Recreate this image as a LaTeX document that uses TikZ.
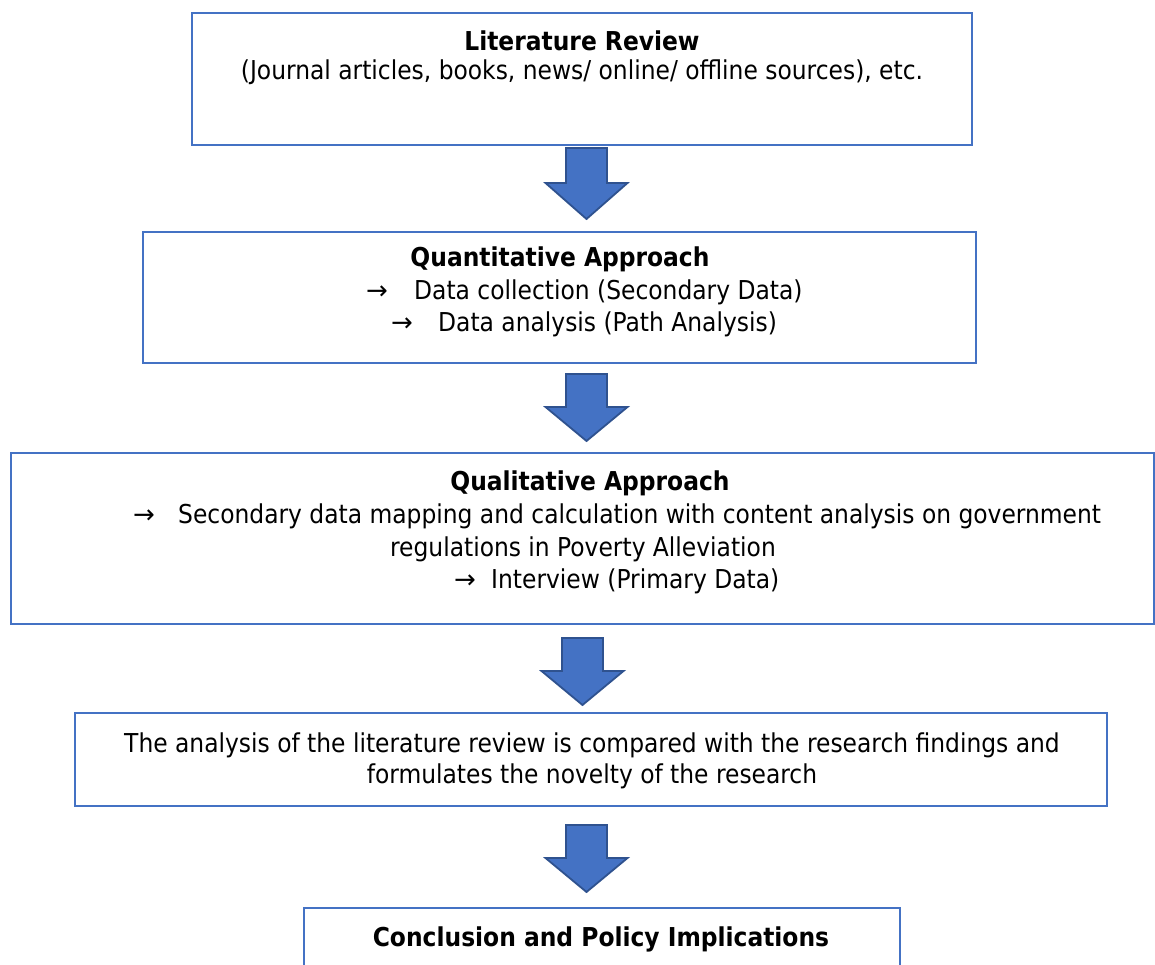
\documentclass[tikz,border=0pt]{standalone}
\usepackage{fontspec}
\setmainfont{DejaVu Sans Condensed}
\newfontfamily\arrowfont{DejaVu Sans}
\definecolor{boxblue}{HTML}{4472C4}
\definecolor{arrowedge}{HTML}{2F528F}
\tikzset{
  stagebox/.style={draw=boxblue, line width=1.5pt, rectangle, inner sep=0pt},
  flowarrow/.style={draw=arrowedge, fill=boxblue, line width=1.8pt, line join=miter},
  txt/.style={inner sep=0pt, anchor=base, font=\fontsize{26}{31}\selectfont},
  btxt/.style={txt, font=\fontsize{26}{31}\selectfont\bfseries},
}
\newcommand{\blockarr}[5]{% name, cx, ytop, ybase, ytip
  \coordinate (#1) at (#2,#3);
  \draw[flowarrow] (#2-20.5,#3) -- (#2+20.5,#3) -- (#2+20.5,#4) -- (#2+41,#4) -- (#2,#5) -- (#2-41,#4) -- (#2-20.5,#4) -- cycle;}
\newcommand{\rarr}{{\arrowfont →}}
\begin{document}
\begin{tikzpicture}[x=1pt,y=-1pt]
\useasboundingbox (0,0) rectangle (1155,965);
\clip (0,0) rectangle (1155,965);
\fill[white] (0,0) rectangle (1155,965);
% boxes
\node[stagebox, minimum width=780pt, minimum height=132pt] (lit) at (582,79) {};
\node[stagebox, minimum width=833pt, minimum height=131pt] (quant) at (559.5,297.5) {};
\node[stagebox, minimum width=1143pt, minimum height=171pt] (qual) at (582.5,538.5) {};
\node[stagebox, minimum width=1032pt, minimum height=93pt] (comp) at (591,759.5) {};
\node[stagebox, minimum width=596pt, minimum height=80pt] (concl) at (602,948) {};
% block arrows
\blockarr{a1}{586.5}{148}{183}{219}
\blockarr{a2}{586.5}{374}{407}{441}
\blockarr{a3}{582.5}{638}{671}{705}
\blockarr{a4}{586.5}{825}{858}{892}
% texts
\node[btxt] (t1) at (582,51) {Literature Review};
\node[txt] (t2) at (582,80) {(Journal articles, books, news/ online/ offline sources), etc.};
\node[btxt] (t3) at (560,267) {Quantitative Approach};
\node[txt, anchor=base west] (t4) at (366,299) {\makebox[48pt][l]{\rarr}Data collection (Secondary Data)};
\node[txt, anchor=base west] (t5) at (391,331) {\makebox[47pt][l]{\rarr}Data analysis (Path Analysis)};
\node[btxt] (t6) at (590,490) {Qualitative Approach};
\node[txt, anchor=base west] (t7) at (133,523) {\makebox[45pt][l]{\rarr}Secondary data mapping and calculation with content analysis on government};
\node[txt] (t8) at (583,556) {regulations in Poverty Alleviation};
\node[txt, anchor=base west] (t9) at (454,588) {\makebox[37pt][l]{\rarr}Interview (Primary Data)};
\node[txt] (t10) at (592,752) {The analysis of the literature review is compared with the research findings and};
\node[txt] (t11) at (592,783) {formulates the novelty of the research};
\node[btxt] (t12) at (601,946) {Conclusion and Policy Implications};
\end{tikzpicture}
\end{document}
